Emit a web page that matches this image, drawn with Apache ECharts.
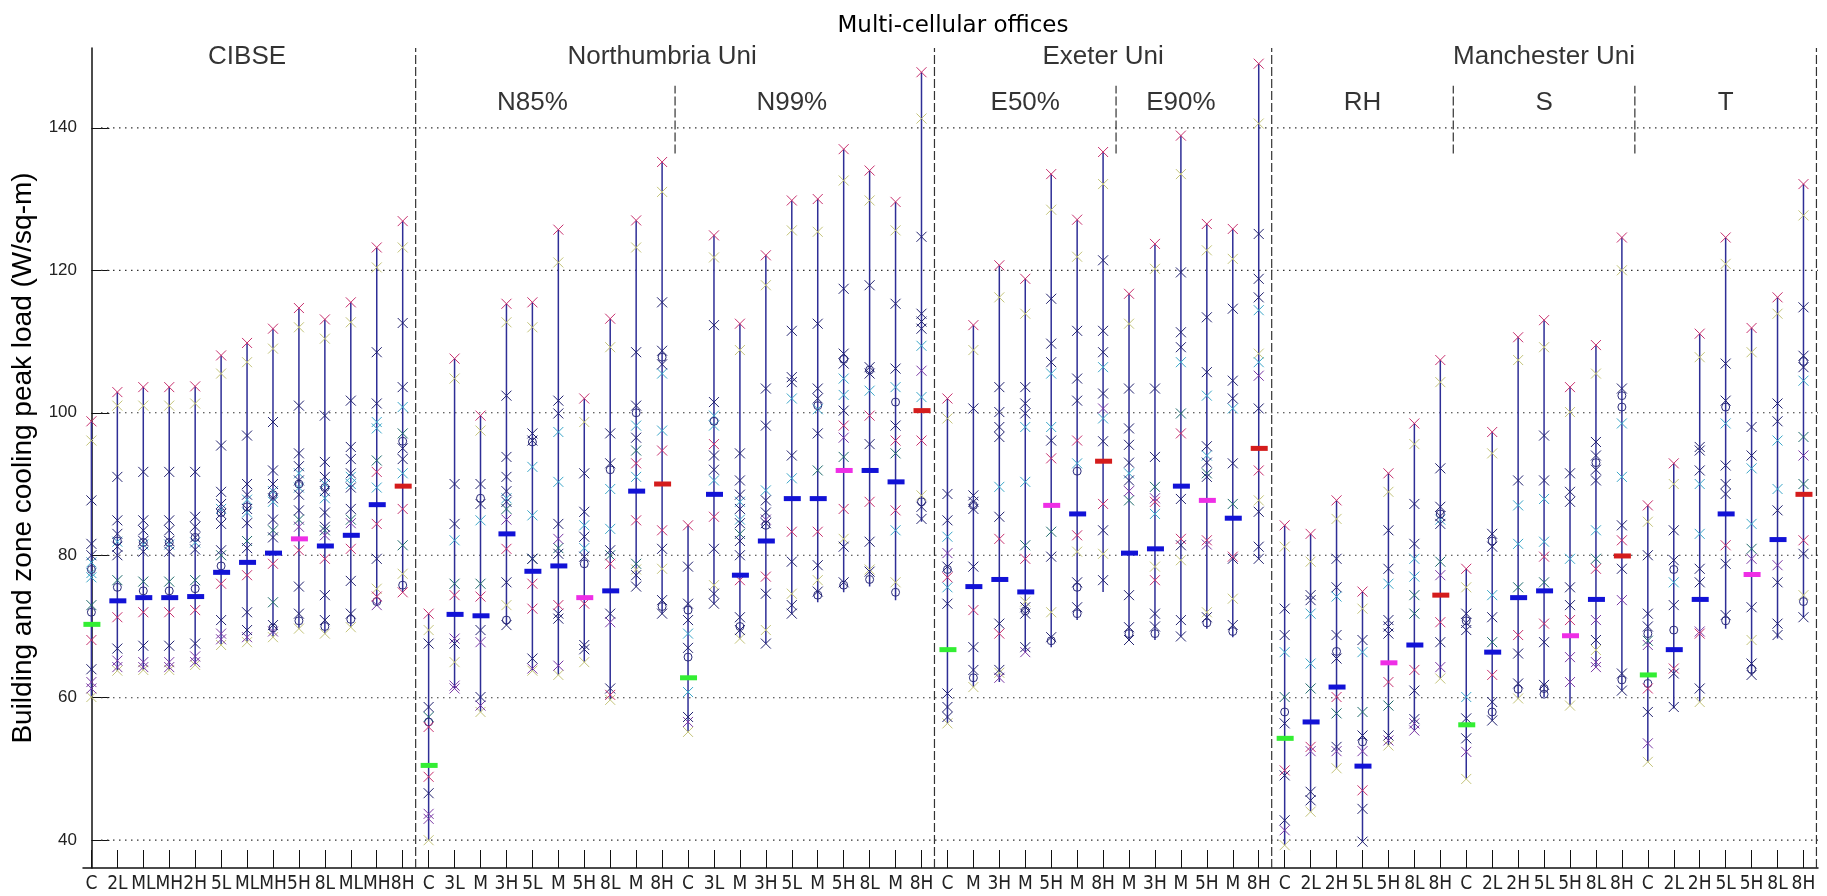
<!DOCTYPE html>
<html><head><meta charset="utf-8">
<script src="https://cdn.jsdelivr.net/npm/echarts@6/dist/echarts.min.js"></script>
<style>html,body{margin:0;padding:0;background:#fff}#c{width:1827px;height:896px}</style>
</head><body><div id="c"></div>
<script>
const categories = ['C','2L','ML','MH','2H','5L','ML','MH','5H','8L','ML','MH','8H',
 'C','3L','M','3H','5L','M','5H','8L','M','8H',
 'C','3L','M','3H','5L','M','5H','8L','M','8H',
 'C','M','3H','M','5H','M','8H',
 'M','3H','M','5H','M','8H',
 'C','2L','2H','5L','5H','8L','8H',
 'C','2L','2H','5L','5H','8L','8H',
 'C','2L','2H','5L','5H','8L','8H'];

const maxValues = [98.8,102.9,103.6,103.6,103.7,108.05,109.8,111.8,114.7,113.1,115.5,123.2,126.9,
 71.8,107.6,99.6,115.3,115.5,125.7,102.0,113.2,127.0,135.2,
 84.2,124.9,112.5,122.1,129.8,130.0,137.0,134.0,129.6,147.8,
 102.0,112.3,120.7,118.8,133.5,127.1,136.6,
 116.7,123.7,138.9,126.5,125.8,149.0,
 84.2,83.0,87.7,74.9,91.5,98.5,107.4,
 78.1,97.3,110.6,113.0,103.6,109.5,124.6,
 87.0,92.9,111.1,124.6,111.9,116.2,132.1];

const minValues = [60.1,63.8,63.9,63.9,64.6,67.4,67.8,68.5,69.7,69.0,69.9,73.0,74.8,
 40.0,61.3,58.0,70.2,63.8,63.2,65.0,59.7,75.6,71.8,
 55.2,73.2,68.3,67.6,71.8,73.4,74.8,75.6,73.7,84.7,
 56.4,61.5,62.2,66.4,67.1,70.9,74.85,
 68.1,68.1,68.6,69.7,68.5,79.5,
 39.3,44.0,50.1,39.8,53.3,55.4,62.7,
 48.6,56.8,59.9,60.1,58.9,64.3,61.0,
 51.0,58.5,59.4,69.7,63.2,68.3,71.3];

const medianValues = [70.3,73.6,74.05,74.05,74.2,77.6,79.0,80.3,82.3,81.3,82.8,87.1,89.7,
 50.5,71.7,71.5,83.0,77.75,78.5,74.05,75.0,89.0,90.0,
 62.8,88.55,77.2,82.0,87.95,87.95,91.9,91.9,90.3,100.3,
 66.75,75.6,76.6,74.85,87.0,85.8,93.2,
 80.3,80.9,89.7,87.7,85.2,95.0,
 54.3,56.6,61.5,50.4,64.9,67.4,74.4,
 56.2,66.4,74.05,75.0,68.7,73.8,79.9,
 63.2,66.75,73.8,85.8,77.3,82.2,88.55];

const pinkMarks = [
 [98.8,68.1],[102.9,71.3],[103.6,72.0],[103.6,72.0],[103.7,72.3],[108.05,76.0],[109.8,77.2],[111.8,78.8],[114.7,80.7],[113.1,79.5],[115.5,80.9],[123.2,91.7,84.4,74.2],[126.9,86.5,74.8],
 [71.8,55.9,48.9],[107.6,74.4],[99.6,74.2],[115.3,80.9],[115.5,76.0,72.5],[125.7,73.0],[102.0,73.2],[113.2,78.8,60.4],[127.0,92.9,84.9],[135.2,94.7,83.5],
 [84.2],[124.9,95.6,85.4],[112.5,76.5],[122.1,77.0],[129.8,83.3],[130.0,83.3],[137.0,98.2,86.5],[134.0,99.6,87.5],[129.6,96.1,86.3],[147.8,96.1],
 [102.0,76.9],[112.3,72.3],[120.7,82.3,69.0],[118.8,79.5],[133.5,93.6],[127.1,96.1,82.8],[136.6,87.2],
 [116.7],[123.7,87.5,76.5],[138.9,97.1,82.3],[126.5,82.1],[125.8,79.8],[149.0,91.9],
 [84.2,49.8],[83.0,53.1],[87.7,60.1],[74.9,47.0],[91.5,62.2],[98.5,63.9],[107.4,70.6],
 [78.1],[97.3,63.2],[110.6,68.8],[113.0,79.8,70.4],[103.6,70.9],[109.5,78.1],[124.6,82.1],
 [87.0,61.3],[92.9,64.1],[111.1,69.0],[124.6,81.4],[111.9],[116.2],[132.1,82.1]];

const oliveMarks = [
 [96.1,60.1],[101.0,63.8],[101.0,63.9],[101.0,63.9],[101.3,64.6],[105.5,67.4],[107.1,67.8],[109.0,68.5],[112.0,69.7],[110.4,69.0],[112.7,69.9],[120.4,75.3],[123.2,77.4],
 [69.5,40.0],[104.8,65.0],[97.5,58.0],[112.7,73.0],[112.0,63.8],[121.1,63.2],[98.7,65.0],[109.2,59.7],[123.2,78.0],[131.0,78.1],
 [55.2],[121.8,75.8],[108.8,68.3],[117.9,69.5],[125.6,74.6],[125.4,76.5],[132.6,82.3],[129.8,78.0],[125.6,76.2],[141.3,88.4],
 [99.2,56.4],[108.8,61.5],[116.2,63.5],[113.9,73.5],[128.5,72.0],[121.9,80.5],[132.1,80.2],
 [112.5],[120.2,78.4],[133.5,79.3],[122.8,72.0],[121.6,73.9],[140.6,108.3,87.7],
 [81.2,39.3],[79.1,44.0],[85.1,50.1],[72.5],[88.9,53.3],[95.6],[104.3,62.7],
 [75.5,48.6],[94.3],[107.4,59.9],[109.2],[100.1,58.9],[105.5,66.7],[120.0],
 [84.7,51.0],[90.0],[107.8,59.4],[120.9],[108.5,68.1],[113.9],[127.7,74.4]];

const navyMarks = [
 [87.7,81.6,80.0,64.0],[91.0,84.9,83.0,81.2,80.0,66.9],[91.7,84.9,83.5,82.0,80.5,67.3],[91.7,84.9,83.5,82.0,80.5,67.3],[91.7,85.4,84.0,82.5,80.8,67.6],[95.4,88.9,87.2,85.8,84.4,80.7,70.9],[96.8,90.0,88.5,86.5,84.5,81.0,72.0,69.5],[98.7,91.9,90.0,88.0,85.0,82.5,70.2],[101.0,94.3,92.5,90.5,88.5,86.3,75.6,71.8],[99.6,93.1,91.0,89.0,86.0,84.0,74.4,70.9],[101.7,95.2,93.5,91.5,89.5,86.5,76.4,71.8],[108.5,101.3,79.5],[112.6,103.6,95.0,93.5],
 [67.6,58.7,46.6],[90.0,84.4,67.6],[90.0,87.2,69.5,60.1],[102.4,93.8,91.0,89.0,87.5,76.2,70.2],[97.1,96.1,79.5,65.5],[101.7,99.9,84.4,80.2,71.8,71.1],[91.5,86.1,82.6,79.8,67.4,66.8],[97.1,92.9,80.7,71.8,61.3],[108.5,101.0,96.5,77.2,75.6],[115.5,108.7,106.8,80.9,73.7,71.8],
 [78.4,73.2,70.9,67.0,57.3],[112.3,101.5,94.0,92.0,80.9,74.6,73.2],[94.3,90.5,88.5,86.5,84.5,82.0,80.0,71.3,69.5],[103.4,98.2,87.7,86.0,84.5,74.6,67.6],[111.5,105.0,104.3,94.0,79.1,73.0,71.8],[112.5,103.4,102.0,97.1,78.6,74.9],[117.4,108.3,106.9,100.3,81.2,76.2],[117.9,106.4,105.5,95.6,81.9,77.7],[115.3,106.2,98.2],[124.7,113.9,112.8,111.8,86.8,85.1],
 [88.6,84.9,78.4,73.2,60.6,58.7,57.3],[100.6,88.4,87.5,86.5,78.4,67.1,63.9],[103.6,100.1,98.0,96.6,85.4,70.4,63.9],[103.6,101.3,99.9,72.7,71.8,67.1],[116.0,109.7,107.1,96.1,79.8,68.5],[111.5,104.8,101.7,76.2,72.7],[121.4,111.5,108.5,102.7,96.0,83.5,76.5],
 [103.4,97.8,95.5,93.0,90.5,74.4,69.9,68.1],[103.4,93.8,71.8,70.0],[119.7,111.3,109.2,87.9,81.4,70.9,68.6],[113.4,105.7,95.3,93.0,91.0,71.3],[114.6,104.5,102.0,92.9,79.5,70.2],[125.1,118.8,116.2,100.6,86.1,81.2,79.5],
 [72.5,68.8,56.4,49.1,42.8],[74.4,73.7,46.8,45.6],[79.5,75.5,68.8,65.5,53.1],[68.1,54.7,44.4,39.8],[83.5,78.1,70.9,70.0,69.0,54.7],[87.2,81.6,61.0,57.0],[92.2,86.8,85.5,84.4,67.8],
 [71.8,70.5,69.5,57.1,54.3],[83.0,81.2,71.3,59.4,56.8],[90.5,66.2,62.0],[96.8,90.5,67.8,61.8],[91.5,88.9,87.5,75.5,73.0],[95.9,94.0,92.0,90.5,68.1],[103.4,84.2,78.1,63.4,61.0],
 [80.0,71.8,70.0,58.0],[83.5,79.3,73.0,63.4,58.7],[95.2,94.7,91.9,78.1,76.2,61.3],[106.9,101.7,92.6,90.0,88.6,78.8,71.6],[98.0,94.0,72.7,64.8,63.2],[101.3,98.8,86.3,76.2,70.4,68.8],[114.8,108.0,106.4,80.2,71.3]];

const cyanMarks = [
 [79.0,77.5,76.9],[81.9],[81.5],[81.5],[81.8],[86.5],[87.8,86.0],[89.0,87.5],[91.5,89.5],[90.0,88.0],[91.0,90.0],[98.7,97.8,89.5],[100.8,91.5],
 [],[82.1],[84.9],[88.0],[92.4,85.6],[97.3,90.3],[84.2,81.0],[89.3,83.7],[98.2,91.0],[105.5,97.5],
 [69.0,60.8],[99.6,98.2,90.5],[87.5,85.0],[89.1],[102.0,90.8],[100.5],[104.8,102.5],[103.1],[103.6,83.5],[109.4,102.2],
 [82.6,75.5],[],[89.6],[98.0,90.3],[105.5,98.0],[92.9],[106.4,99.2],
 [91.5],[85.8],[107.1],[102.4,94.0],[100.6],[114.4,107.1],
 [66.4],[71.8,64.8],[74.2],[66.4],[76.0],[79.5,77.0],[85.0],
 [60.1],[74.4],[87.0,81.6],[87.9,81.9],[79.5],[83.5],[98.5,91.0],
 [],[76.2],[90.0,83.0],[98.5],[92.2,84.4],[96.1,89.3],[104.5]];

const tealMarks = [
 [73.0],[76.5],[76.3],[76.3],[76.5],[80.0],[82.0],[73.4,83.5],[85.0],[83.5],[85.0],[93.3],[97.1,81.4],
 [57.3],[76.0],[76.0],[86.5],[79.5],[81.0],[],[80.0],[94.7,78.8],[],
 [],[],[83.0],[],[],[91.9],[93.8],[],[94.3],[],
 [],[],[],[81.4],[83.3],[],[],
 [87.7],[89.6],[99.9],[91.5],[87.2],[],
 [60.1],[61.3],[57.8],[58.0],[58.9],[74.4,71.8],[79.1],
 [],[67.8],[75.5],[76.2],[],[79.5],[],
 [68.0],[],[],[],[80.9],[],[96.6,90.0]];

const purpleMarks = [
 [62.2,61.3],[65.2,64.3],[65.0,64.3],[65.0,64.3],[65.8,65.0],[69.0,68.2],[68.5],[69.3],[84.0],[82.8],[84.5],[73.0],[],
 [43.7,43.0],[68.3,61.7,61.3],[67.8,58.9],[85.0],[64.1],[82.3,64.5],[],[70.6],[],[],
 [56.6],[],[],[85.0],[],[],[96.5],[],[],[105.9],
 [80.3],[],[62.8],[66.4],[],[],[100.6],
 [89.0],[88.0],[],[81.5],[],[105.2],
 [41.4],[52.5],[52.5],[52.5],[54.0],[56.4,55.4],[77.2,64.3],
 [52.4],[],[],[],[65.7,62.2],[70.9,65.0,64.3],[73.7],
 [67.4,53.6],[],[69.3],[],[79.5],[78.6],[94.0]];

const circleMarks = [
 [72.0,78.0],[75.5,82.0],[75.0,81.8],[75.0,81.8],[75.3,82.5],[78.5,86.0],[86.8],[88.5,69.8],[90.0,70.8],[89.5,70.0],[71.0],[73.5],[75.8,96.0],
 [56.6],[],[88.0],[70.9],[95.9],[],[78.8],[92.0],[100.0],[107.8,72.8],
 [72.3,65.7],[98.8],[70.0],[84.2],[],[101.0,74.4],[107.5,75.8],[106.0,76.6],[74.8,101.5],[87.5],
 [78.0],[87.0,62.8],[],[72.2],[68.0],[91.8,75.5,71.8],[],
 [69.0],[69.0],[],[70.5],[69.3],[],
 [58.0],[],[66.5],[53.8],[],[],[85.8],
 [70.8],[82.0,58.0],[61.2],[61.3,60.5],[],[93.0],[102.4,100.8,62.5],
 [69.0,62.0],[69.5,78.0],[],[100.8,70.8],[64.0],[],[107.2,73.5]];

const yTicks = [40,60,80,100,120,140];
const groupLabels = [['CIBSE',6],['Northumbria Uni',22],['Exeter Uni',39],['Manchester Uni',56]];
const groupLabelY = 150.0;
const subLabels = [['N85%',17],['N99%',27],['E50%',36],['E90%',42],['RH',49],['S',56],['T',63]];
const subLabelY = 143.5;
const majorSeparators = [12.5,32.5,45.5,66.5];
const minorSeparators = [22.5,39.5,52.5,59.5];
const minorSepRange = [136.4,145.9];
const yRange = [36.1,151.2];
const xRange = [-0.324,66.56];

const FONT = '"Liberation Sans", Arial, sans-serif';
const NARROW = '"Liberation Sans Narrow", "Arial Narrow", "DejaVu Sans Condensed", sans-serif';
const chart = echarts.init(document.getElementById('c'), null, {renderer:'canvas'});

function barColor(lbl){
  if (lbl === 'C') return '#33ee33';
  if (lbl === '5H') return '#ee2ee6';
  if (lbl === '8H') return '#d41c1c';
  return '#1212d6';
}
function markSeries(arr, color, shape, z){
  const data = [];
  arr.forEach((vals,i)=>vals.forEach(v=>data.push([i,v])));
  return {type:'custom', data, z, silent:true, encode:{x:0,y:1},
    renderItem:(params, api)=>{
      const p = api.coord([api.value(0), api.value(1)]);
      if (shape === 'o') return {type:'circle', shape:{cx:p[0],cy:p[1],r:4}, style:{fill:'none',stroke:color,lineWidth:1}};
      const s = 5;
      return {type:'group', children:[
        {type:'line', shape:{x1:p[0]-s,y1:p[1]-s,x2:p[0]+s,y2:p[1]+s}, style:{stroke:color,lineWidth:1}},
        {type:'line', shape:{x1:p[0]-s,y1:p[1]+s,x2:p[0]+s,y2:p[1]-s}, style:{stroke:color,lineWidth:1}}]};
    }};
}

const series = [];
series.push({type:'custom', z:1, silent:true, data: yTicks.map(v=>[0,v]), encode:{x:0,y:1},
  renderItem:(params, api)=>{
    const cs = params.coordSys;
    const p = api.coord([0, api.value(1)]);
    return {type:'line', shape:{x1:cs.x+18,y1:p[1],x2:cs.x+cs.width,y2:p[1]},
      style:{stroke:'#333',lineWidth:1.2,lineDash:[1.5,4.5]}};
  }});
series.push({type:'custom', z:2, silent:true, data: majorSeparators.map(x=>[x,yRange[0],yRange[1]]), encode:{x:0,y:[1,2]},
  renderItem:(params, api)=>{
    const a = api.coord([api.value(0), api.value(1)]);
    const b = api.coord([api.value(0), api.value(2)]);
    return {type:'line', shape:{x1:a[0],y1:a[1],x2:b[0],y2:b[1]}, style:{stroke:'#333',lineWidth:1.2,lineDash:[9,3]}};
  }});
series.push({type:'custom', z:2, silent:true, data: minorSeparators.map(x=>[x,minorSepRange[0],minorSepRange[1]]), encode:{x:0,y:[1,2]},
  renderItem:(params, api)=>{
    const a = api.coord([api.value(0), api.value(1)]);
    const b = api.coord([api.value(0), api.value(2)]);
    return {type:'line', shape:{x1:a[0],y1:a[1],x2:b[0],y2:b[1]}, style:{stroke:'#333',lineWidth:1.2,lineDash:[9,3]}};
  }});
series.push({type:'custom', z:3, silent:true, data: categories.map((c,i)=>[i,minValues[i],maxValues[i]]), encode:{x:0,y:[1,2]},
  renderItem:(params, api)=>{
    const a = api.coord([api.value(0), api.value(1)]);
    const b = api.coord([api.value(0), api.value(2)]);
    return {type:'line', shape:{x1:a[0],y1:a[1],x2:b[0],y2:b[1]}, style:{stroke:'#2e2e96',lineWidth:1.5}};
  }});
series.push(markSeries(oliveMarks,'#c4c47a','x',4));
series.push(markSeries(cyanMarks,'#3aa6c8','x',4));
series.push(markSeries(tealMarks,'#1e6a6a','x',4));
series.push(markSeries(purpleMarks,'#7a38a4','x',4));
series.push(markSeries(circleMarks,'#2c2c7a','o',4));
series.push(markSeries(navyMarks,'#22226e','x',5));
series.push(markSeries(pinkMarks,'#c8306e','x',5));
series.push({type:'custom', z:6, silent:true, data: medianValues.map((v,i)=>[i,v]), encode:{x:0,y:1},
  renderItem:(params, api)=>{
    const i = api.value(0);
    const p = api.coord([i, api.value(1)]);
    return {type:'rect', shape:{x:p[0]-8,y:p[1]-2.5,width:17,height:5}, style:{fill:barColor(categories[i])}};
  }});
series.push({type:'scatter', z:7, silent:true, symbolSize:0,
  data: groupLabels.map(g=>({name:g[0], value:[g[1],groupLabelY]})),
  label:{show:true, position:'inside', formatter:p=>p.name, fontSize:26, color:'#000', fontFamily:FONT}});
series.push({type:'scatter', z:7, silent:true, symbolSize:0,
  data: subLabels.map(g=>({name:g[0], value:[g[1],subLabelY]})),
  label:{show:true, position:'inside', formatter:p=>p.name, fontSize:26, color:'#000', fontFamily:FONT}});

const idx = categories.map((c,i)=>i);
chart.setOption({
  animation:false,
  backgroundColor:'#fff',
  title:{text:'Multi-cellular offices', left:948, top:10, textAlign:'center',
    textStyle:{fontFamily:'"DejaVu Sans", sans-serif', fontSize:23, fontWeight:'normal', color:'#000'}},
  grid:{left:83, right:9, top:48, bottom:28, containLabel:false},
  xAxis:{type:'value', min:xRange[0], max:xRange[1],
    axisLine:{show:true, lineStyle:{color:'#111', width:1.5}},
    axisTick:{show:true, inside:true, length:18, customValues:idx, lineStyle:{color:'#111'}},
    axisLabel:{show:true, customValues:idx, formatter:v=>categories[Math.round(v)], fontSize:19, color:'#222', margin:7, fontFamily:NARROW},
    splitLine:{show:false}},
  yAxis:{type:'value', min:yRange[0], max:yRange[1],
    name:'Building and zone cooling peak load (W/sq-m)', nameLocation:'middle', nameGap:41,
    nameTextStyle:{fontSize:28, color:'#000', fontFamily:FONT},
    axisLine:{show:true, lineStyle:{color:'#111', width:1.5}},
    axisTick:{show:true, inside:true, length:18, customValues:yTicks, lineStyle:{color:'#111'}},
    axisLabel:{show:true, customValues:yTicks, fontSize:17, color:'#222', margin:6, fontFamily:FONT},
    splitLine:{show:false}},
  series
});
</script></body></html>
